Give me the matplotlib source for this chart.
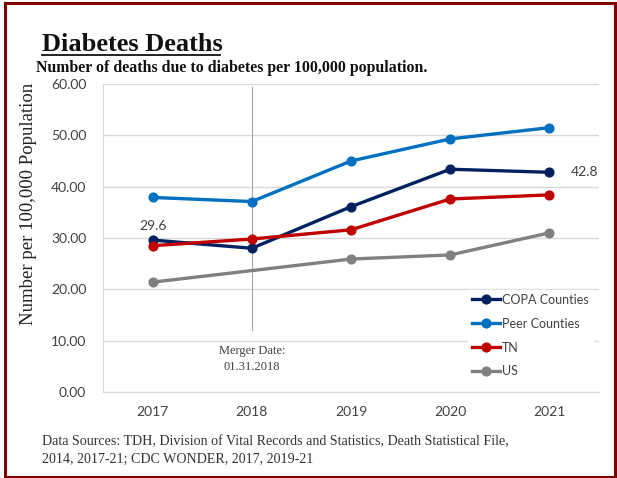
import numpy as np
import matplotlib.pyplot as plt
from matplotlib.patches import Rectangle

# Data
years = ["2017", "2018", "2019", "2020", "2021"]
copa = [29.6, 28.0, 36.1, 43.4, 42.8]
peer = [37.9, 37.1, 45.0, 49.3, 51.5]
tn = [28.5, 29.8, 31.6, 37.6, 38.4]
us = [21.4, np.nan, 25.9, 26.7, 31.0]
y_ticks = [0, 10, 20, 30, 40, 50, 60]

series = [
    ("COPA Counties", copa, "#002060"),
    ("Peer Counties", peer, "#0070C0"),
    ("TN", tn, "#C00000"),
    ("US", us, "#808080"),
]

SERIF = "Liberation Serif"
SANS = "Lato"

fig = plt.figure(figsize=(6.17, 4.78), dpi=100)
W, H = 617, 478
ax = fig.add_axes([103 / W, 1 - 392 / H, (599 - 103) / W, (392 - 84) / H])

x = np.arange(len(years))
for name, vals, col in series:
    v = np.array(vals, dtype=float)
    ok = ~np.isnan(v)
    ax.plot(x[ok], v[ok], color=col, lw=2.4, marker="o", ms=6.3, label=name)

ax.set_xlim(-0.5, len(years) - 0.5)
ax.set_ylim(0, 60)
ax.set_yticks(y_ticks)
ax.set_yticklabels([f"{t:.2f}" for t in y_ticks], fontfamily=SANS, fontsize=10, color="#404040")
ax.set_xticks(x)
ax.set_xticklabels(years, fontfamily=SANS, fontsize=10, color="#404040")
ax.tick_params(length=0, pad=12)
ax.tick_params(axis="x", pad=10)
ax.grid(axis="y", color="#D9D9D9", lw=1)
ax.set_axisbelow(True)
for s in ["top", "right"]:
    ax.spines[s].set_visible(False)
ax.spines["left"].set_color("#D9D9D9")
ax.spines["bottom"].set_color("#D9D9D9")

# merger line
ax.plot([1, 1], [59.5, 12.0], color="#A6A6A6", lw=0.8, zorder=1)
ax.text(1, 6.4, "Merger Date:\n01.31.2018", ha="center", va="center",
        fontfamily=SERIF, fontsize=9, color="#404040", linespacing=1.4)

# data labels
ax.text(0, 31.2, "29.6", ha="center", va="bottom", fontfamily=SANS, fontsize=10, color="#404040")
ax.text(4.22, 42.8, "42.8", ha="left", va="center", fontfamily=SANS, fontsize=10, color="#404040")

leg = ax.legend(loc="lower right", bbox_to_anchor=(1.0, 0.015), frameon=True, fancybox=False,
                edgecolor="white", framealpha=1, prop={"family": SANS, "size": 9},
                handlelength=2.3, handletextpad=0.15, labelspacing=0.95, borderpad=0.3)
for t in leg.get_texts():
    t.set_color("#404040")

ax.set_ylabel("Number per 100,000 Population", fontfamily=SERIF, fontsize=13.5,
              color="#222222")
ax.yaxis.set_label_coords(-0.133, 0.61)

fig.text(42 / W, 1 - 51 / H, "Diabetes Deaths", fontfamily=SERIF, fontweight="bold",
         fontsize=19, color="#111111", va="baseline")
fig.add_artist(plt.Line2D([42 / W, 220 / W], [1 - 55 / H, 1 - 55 / H], color="#111111", lw=1.3))
fig.text(36 / W, 1 - 72 / H, "Number of deaths due to diabetes per 100,000 population.",
         fontfamily=SERIF, fontweight="bold", fontsize=11.4, color="#111111", va="baseline")
fig.text(42 / W, 1 - 445 / H,
         "Data Sources: TDH, Division of Vital Records and Statistics, Death Statistical File,",
         fontfamily=SERIF, fontsize=10.1, color="#333333", va="baseline")
fig.text(42 / W, 1 - 463 / H, "2014, 2017-21; CDC WONDER, 2017, 2019-21",
         fontfamily=SERIF, fontsize=10.1, color="#333333", va="baseline")

# border
fig.add_artist(Rectangle((5 / W, 1 / H), (615 - 5) / W, (475 - 1) / H, transform=fig.transFigure,
                         fill=False, edgecolor="#7F0000", lw=2.2))

fig.savefig("out.png", dpi=100)
